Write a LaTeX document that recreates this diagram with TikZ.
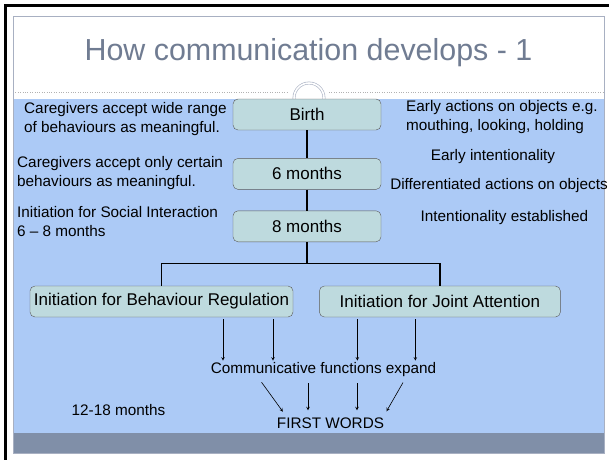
\documentclass[tikz,border=0pt]{standalone}
\usepackage{fontspec}
\setmainfont{Liberation Sans}
\usetikzlibrary{arrows, positioning, calc}
\definecolor{bandblue}{RGB}{172,202,246}
\definecolor{footgray}{RGB}{128,143,168}
\definecolor{boxfill}{RGB}{190,218,222}
\definecolor{boxline}{RGB}{90,90,90}
\definecolor{titlegray}{RGB}{112,124,146}
\definecolor{framegray}{RGB}{168,176,194}
\tikzstyle{box} = [rectangle, rounded corners=5pt, minimum height=31pt, text centered, draw=boxline, fill=boxfill, font=\fontsize{17}{20}\selectfont]
\tikzstyle{note} = [inner sep=0pt, align=left, font=\fontsize{15.3}{19}\selectfont]
\tikzstyle{tree} = [line width=1.5pt]
\tikzstyle{arrow} = [semithick,->,>=stealth]

\begin{document}
\begin{tikzpicture}[x=1pt, y=-1pt]
    \clip (0,0) rectangle (609,459);
    \fill[white] (0,0) rectangle (609,459);
    % Marco de la diapositiva
    \draw[line width=3pt] (5.5,5.5) rectangle (650,500);
    \node (title) [font=\fontsize{30.4}{36}\selectfont, text=titlegray] at (308.5,53) {How communication develops - 1};
    \draw[gray!60, dotted] (13,92) -- (288,92);
    \draw[gray!60, dotted] (329,92) -- (604,92);
    \draw[framegray, line width=0.6pt, double=white, double distance=1.6pt] (309,98) circle (15pt);
    \fill[bandblue] (13,99) rectangle (604,433);
    \fill[footgray] (13,433) rectangle (604,453);
    \draw[framegray, thin] (13,16) rectangle (604,453);

    % Etapas
    \node (birth) [box, minimum width=148pt] at (307,114.5) {Birth};
    \node (six) [box, minimum width=148pt, below=28pt of birth] {6 months};
    \node (eight) [box, minimum width=148pt, below=21pt of six] {8 months};
    \node (regul) [box, minimum width=263pt] at (161.5,301.5) {Initiation for Behaviour Regulation};
    \node (joint) [box, minimum width=241pt, right=26pt of regul] {Initiation for Joint Attention};

    % Textos laterales
    \node (wide) [note, anchor=west] at (24,119.5) {Caregivers accept wide range\\of behaviours as meaningful.};
    \node (only) [note, anchor=west] at (17,173.5) {Caregivers accept only certain\\behaviours as meaningful.};
    \node (social) [note, anchor=west] at (17,222) {Initiation for Social Interaction\\6 – 8 months};
    \node (actions) [note, anchor=west] at (406,117) {Early actions on objects e.g.\\mouthing, looking, holding};
    \node (early) [note] at (493,157) {Early intentionality};
    \node (diff) [note] at (499,186) {Differentiated actions on objects};
    \node (intent) [note] at (504.5,218) {Intentionality established};
    \node (expand) [note] at (323.5,370) {Communicative functions expand};
    \node (age) [note] at (118.5,410) {12-18 months};
    \node (first) [note] at (330.5,423) {FIRST WORDS};

    \draw [tree] (birth) -- (six);
    \draw [tree] (six) -- (eight);
    \draw [tree] (eight.south) -- ++(0,21.5) coordinate (split);
    \draw [tree] (split) -| (regul.north);
    \draw [tree] (split) -| (joint.north);

    \foreach \dx in {61.5,111.5}
        \draw [arrow, shorten <=2pt, shorten >=2pt] ([xshift=\dx pt]regul.south) -- ([xshift=\dx pt]regul.south |- expand.north);
    \foreach \dx in {-82.5,-24.5}
        \draw [arrow, shorten <=2pt, shorten >=2pt] ([xshift=\dx pt]joint.south) -- ([xshift=\dx pt]joint.south |- expand.north);
    \foreach \a/\b in {-65.5/-43.5, -15.5/-22.5, 33.5/26.5, 82.5/52.5}
        \draw [arrow, shorten <=6pt, shorten >=7pt] ([xshift=\a pt]expand.south) -- ([xshift=\b pt]first.north);
\end{tikzpicture}
\end{document}
